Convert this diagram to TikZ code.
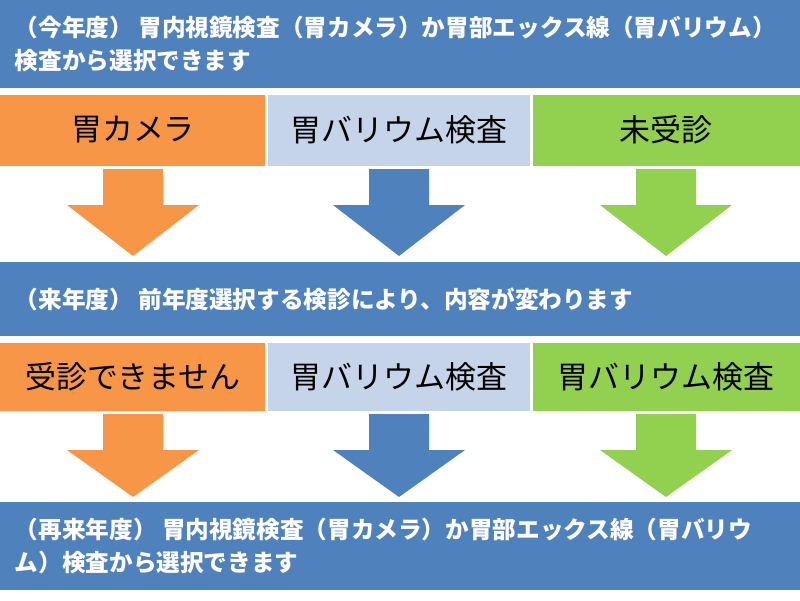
\documentclass[tikz,border=0pt]{standalone}
\usepackage{fontspec}
\setmainfont{Noto Sans CJK JP}
\usetikzlibrary{positioning}
\definecolor{barblue}{HTML}{4F81BD}
\definecolor{boxorange}{HTML}{F79646}
\definecolor{boxgray}{HTML}{C6D4E9}
\definecolor{boxgreen}{HTML}{92D050}
\tikzset{
  bartext/.style={anchor=west, text=white, font=\fontsize{16.8}{23}\selectfont\bfseries, align=left},
  boxtext/.style={font=\fontsize{22}{26}\selectfont},
}
% down arrow: centre x, top y, neck y, tip y, colour
\newcommand{\downarrowshape}[5]{%
  \fill[#5] (#1-30,#2) -- (#1+30,#2) -- (#1+30,#3) -- (#1+66,#3) -- (#1,#4)
    -- (#1-66,#3) -- (#1-30,#3) -- cycle;}
\begin{document}
\begin{tikzpicture}[x=0.025cm,y=-0.025cm]
        \useasboundingbox (0,0) rectangle (800,600);
        % Bars
        \fill[barblue] (0,0) rectangle (800,88);
        \fill[barblue] (0,262) rectangle (800,336);
        \fill[barblue] (0,502) rectangle (800,590);
        \node[bartext] (bar1) at (10,44) {（今年度） 胃内視鏡検査（胃カメラ）か胃部エックス線（胃バリウム）\\検査から選択できます};
        \node[bartext] (bar2) at (10,299) {（来年度） 前年度選択する検診により、内容が変わります};
        \node[bartext] (bar3) at (10,546) {（再来年度） 胃内視鏡検査（胃カメラ）か胃部エックス線（胃バリウ\\ム）検査から選択できます};

        % First row
        \fill[boxorange] (0,95) rectangle (265,166);
        \fill[boxgray] (268,95) rectangle (530,166);
        \fill[boxgreen] (533,95) rectangle (800,166);
        \node[boxtext] (camera) at (133,130) {胃カメラ};
        \node[boxtext] (barium) at (399,130) {胃バリウム検査};
        \node[boxtext] (none) at (666,130) {未受診};

        \downarrowshape{133}{169}{205}{256}{boxorange}
        \downarrowshape{399}{169}{205}{256}{barblue}
        \downarrowshape{666}{169}{205}{256}{boxgreen}

        % Second row
        \fill[boxorange] (0,343) rectangle (265,411);
        \fill[boxgray] (268,343) rectangle (530,411);
        \fill[boxgreen] (533,343) rectangle (800,411);
        \node[boxtext] (nocheck) at (133,377) {受診できません};
        \node[boxtext] (barium2) at (399,377) {胃バリウム検査};
        \node[boxtext] (barium3) at (666,377) {胃バリウム検査};

        \downarrowshape{133}{414}{450}{497}{boxorange}
        \downarrowshape{399}{414}{450}{497}{barblue}
        \downarrowshape{666}{414}{450}{497}{boxgreen}
\end{tikzpicture}
\end{document}
